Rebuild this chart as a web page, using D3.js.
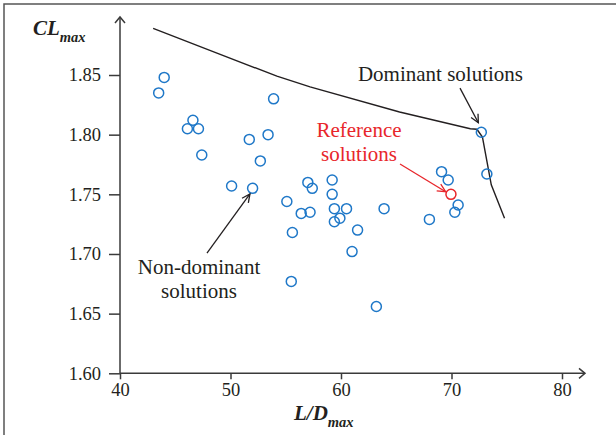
<!DOCTYPE html>
<meta charset="UTF-8">
<style>
  body { margin: 0; background: #fff; }
  svg { display: block; }
  text { font-family: "Liberation Serif", "Times New Roman", serif; fill: #231f20; }
  .tick text { font-size: 18.5px; }
  .note { font-size: 21px; }
  .ref { fill: #e8262b; }
</style>

<body>
  <script src="https://cdn.jsdelivr.net/npm/d3@7/dist/d3.min.js"></script>
  <script>
    // non-dominant solutions (L/Dmax, CLmax)
    var nonDomLD = [44.0, 43.5, 46.6, 46.1, 47.1, 47.4, 53.9, 53.4, 51.7, 52.7, 50.1, 52.0,
      55.1, 57.0, 57.4, 59.2, 59.2, 56.4, 57.2, 59.4, 60.5, 59.9, 59.4, 55.6, 61.5, 61.0,
      63.9, 55.5, 63.2, 68.0, 69.1, 69.7, 70.6, 70.3];
    var nonDomCL = [1.848, 1.835, 1.812, 1.805, 1.805, 1.783, 1.830, 1.800, 1.796, 1.778, 1.757, 1.755,
      1.744, 1.760, 1.755, 1.762, 1.750, 1.734, 1.735, 1.738, 1.738, 1.730, 1.727, 1.718, 1.720, 1.702,
      1.738, 1.677, 1.656, 1.729, 1.769, 1.762, 1.741, 1.735];

    // dominant solutions
    var domLD = [72.7, 73.2];
    var domCL = [1.802, 1.767];

    // reference solution
    var refLD = [69.95];
    var refCL = [1.750];

    // pareto front line
    var frontLD = [43.0, 48.6, 54.2, 57.2, 65.3, 71.7, 72.3, 72.8, 73.6, 74.8];
    var frontCL = [1.889, 1.869, 1.849, 1.840, 1.819, 1.805, 1.8045, 1.798, 1.758, 1.730];

    var xTicks = [40, 50, 60, 70, 80];
    var yTicks = [1.60, 1.65, 1.70, 1.75, 1.80, 1.85];

    var W = 616, H = 435;
    var axisColor = "#3a3a3a";
    var blue = "#1f78c8", red = "#e8262b";

    var svg = d3.select("body").append("svg")
      .attr("width", W)
      .attr("height", H);

    // outer frame (only left and top visible)
    svg.append("rect")
      .attr("x", 4).attr("y", 4)
      .attr("width", W + 10).attr("height", H + 10)
      .attr("fill", "none")
      .attr("stroke", "#555")
      .attr("stroke-width", 1.5);

    var x = d3.scaleLinear().domain([40, 80]).range([120, 562]);
    var y = d3.scaleLinear().domain([1.60, 1.85]).range([373.3, 75]);

    var xEnd = 585, yTop = 17;

    // axes
    var xAxis = svg.append("g")
      .attr("transform", "translate(0," + y(1.60) + ")")
      .call(d3.axisBottom(x).tickValues(xTicks).tickSizeInner(6).tickSizeOuter(0).tickPadding(4)
        .tickFormat(d3.format("d")));
    xAxis.select(".domain").attr("d", "M" + x(40) + ",0H" + xEnd);

    var yAxis = svg.append("g")
      .attr("transform", "translate(" + x(40) + ",0)")
      .call(d3.axisLeft(y).tickValues(yTicks).tickSizeInner(11).tickSizeOuter(0).tickPadding(8)
        .tickFormat(d3.format(".2f")));
    yAxis.select(".domain").attr("d", "M0," + y(1.60) + "V" + yTop);

    svg.selectAll(".domain, .tick line")
      .attr("stroke", axisColor)
      .attr("stroke-width", 1.5);
    svg.selectAll(".tick text").attr("fill", "#231f20");

    // axis arrow heads
    svg.append("path")
      .attr("d", "M" + (xEnd - 6) + "," + (y(1.60) - 5) + "L" + xEnd + "," + y(1.60) + "L" + (xEnd - 6) + "," + (y(1.60) + 5))
      .attr("fill", "none").attr("stroke", axisColor).attr("stroke-width", 1.5);
    svg.append("path")
      .attr("d", "M" + (x(40) - 5) + "," + (yTop + 6) + "L" + x(40) + "," + yTop + "L" + (x(40) + 5) + "," + (yTop + 6))
      .attr("fill", "none").attr("stroke", axisColor).attr("stroke-width", 1.5);

    // axis titles
    var yl = svg.append("text").attr("x", 33).attr("y", 35);
    yl.append("tspan").text("CL").attr("font-weight", "bold").attr("font-style", "italic").attr("font-size", 21);
    yl.append("tspan").text("max").attr("font-style", "italic").attr("font-weight", "bold").attr("font-size", 14.5).attr("dy", 7);

    var xl = svg.append("text").attr("x", 294).attr("y", 420);
    xl.append("tspan").text("L/D").attr("font-weight", "bold").attr("font-style", "italic").attr("font-size", 21);
    xl.append("tspan").text("max").attr("font-style", "italic").attr("font-weight", "bold").attr("font-size", 14.5).attr("dy", 7);

    // front line
    var line = d3.line()
      .x(function(d) { return x(d[0]); })
      .y(function(d) { return y(d[1]); });
    svg.append("path")
      .datum(d3.zip(frontLD, frontCL))
      .attr("d", line)
      .attr("fill", "none")
      .attr("stroke", "#231f20")
      .attr("stroke-width", 1.4);

    // points
    function dots(lds, cls, color) {
      svg.append("g").selectAll("circle")
        .data(d3.zip(lds, cls))
        .enter().append("circle")
        .attr("cx", function(d) { return x(d[0]); })
        .attr("cy", function(d) { return y(d[1]); })
        .attr("r", 5)
        .attr("fill", "none")
        .attr("stroke", color)
        .attr("stroke-width", 1.5);
    }
    dots(nonDomLD, nonDomCL, blue);
    dots(domLD, domCL, blue);
    dots(refLD, refCL, red);

    // annotation arrows
    function arrow(x0, y0, x1, y1, color) {
      var a = Math.atan2(y(y1) - y(y0), x(x1) - x(x0));
      var px = x(x1), py = y(y1), L = 9, s = 0.45;
      var g = svg.append("g").attr("stroke", color).attr("stroke-width", 1.3).attr("fill", "none");
      g.append("path").attr("d", "M" + x(x0) + "," + y(y0) + "L" + px + "," + py);
      g.append("path").attr("d",
        "M" + (px - L * Math.cos(a - s)) + "," + (py - L * Math.sin(a - s)) +
        "L" + px + "," + py +
        "L" + (px - L * Math.cos(a + s)) + "," + (py - L * Math.sin(a + s)));
    }
    arrow(70.77, 1.839, 72.43, 1.810, "#231f20");
    arrow(65.34, 1.7754, 69.47, 1.7522, red);
    arrow(47.87, 1.7008, 51.76, 1.7503, "#231f20");

    // annotation texts
    function note(lines, cx, cy, cls) {
      lines.forEach(function(t, i) {
        svg.append("text")
          .attr("class", "note " + (cls || ""))
          .attr("x", x(cx))
          .attr("y", y(cy) + i * 24)
          .attr("text-anchor", "middle")
          .text(t);
      });
    }
    note(["Dominant solutions"], 69.0, 1.845);
    note(["Reference", "solutions"], 61.63, 1.7978, "ref");
    note(["Non-dominant", "solutions"], 47.15, 1.683);
  </script>
</body>
